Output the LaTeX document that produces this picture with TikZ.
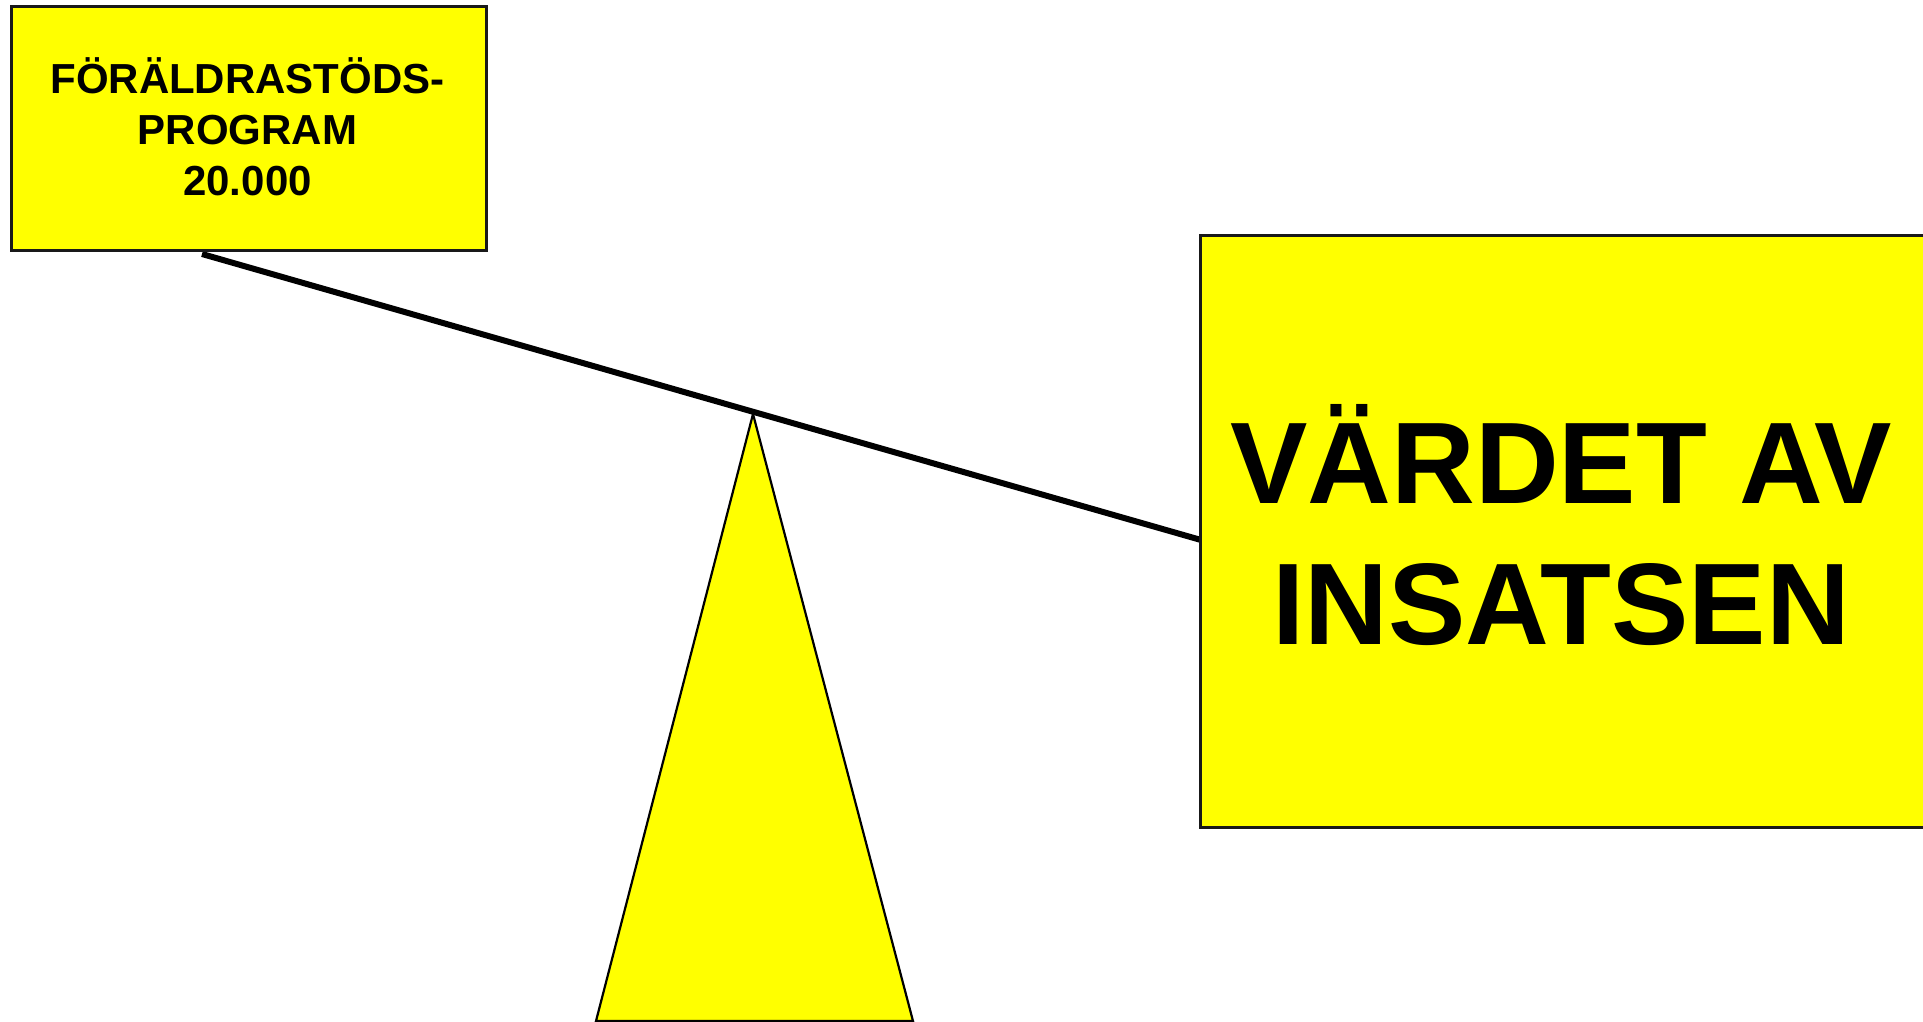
\documentclass[tikz,border=0pt]{standalone}
\usepackage{fontspec}
\setmainfont{Liberation Sans}
\definecolor{yel}{RGB}{255,255,0}
\begin{document}
\begin{tikzpicture}[x=1pt,y=-1pt,
  box/.style={draw=black!90, line width=2.8pt, fill=yel, inner sep=0pt, anchor=north west},
  beam/.style={draw=black, line width=6pt},
  tri/.style={draw=black, line width=2.2pt, fill=yel, line join=miter},
  small/.style={font=\fontsize{42pt}{42pt}\selectfont\bfseries, inner sep=0pt, anchor=base},
  big/.style={font=\fontsize{116pt}{116pt}\selectfont\bfseries, inner sep=0pt, anchor=base}]
\useasboundingbox (0,0) rectangle (1923,1022);
\begin{scope}
\clip (0,0) rectangle (1923,1022);
\fill[white] (0,0) rectangle (1923,1022);
% fulcrum
\coordinate (apex) at (753,414);
\coordinate (baseR) at (913,1021);
\coordinate (baseL) at (596,1021);
\draw[tri] (apex) -- (baseR) -- (baseL) -- cycle;
% beam
\coordinate (beamL) at (202,254);
\coordinate (beamR) at (1201,540);
\draw[beam] (beamL) -- (beamR);
% left box
\node[box, minimum width=475pt, minimum height=244pt] (prog) at (10,5) {};
\node[small] (t1) at (247.5,94) {FÖRÄLDRASTÖDS-};
\node[small] (t2) at (247.5,145) {PROGRAM};
\node[small] (t3) at (247.5,196) {20.000};
% right box
\node[box, minimum width=780pt, minimum height=592pt] (vard) at (1199,234) {};
\node[big] (v1) at (1561,503) {VÄRDET AV};
\node[big] (v2) at (1561,644) {INSATSEN};
\end{scope}
\end{tikzpicture}
\end{document}
